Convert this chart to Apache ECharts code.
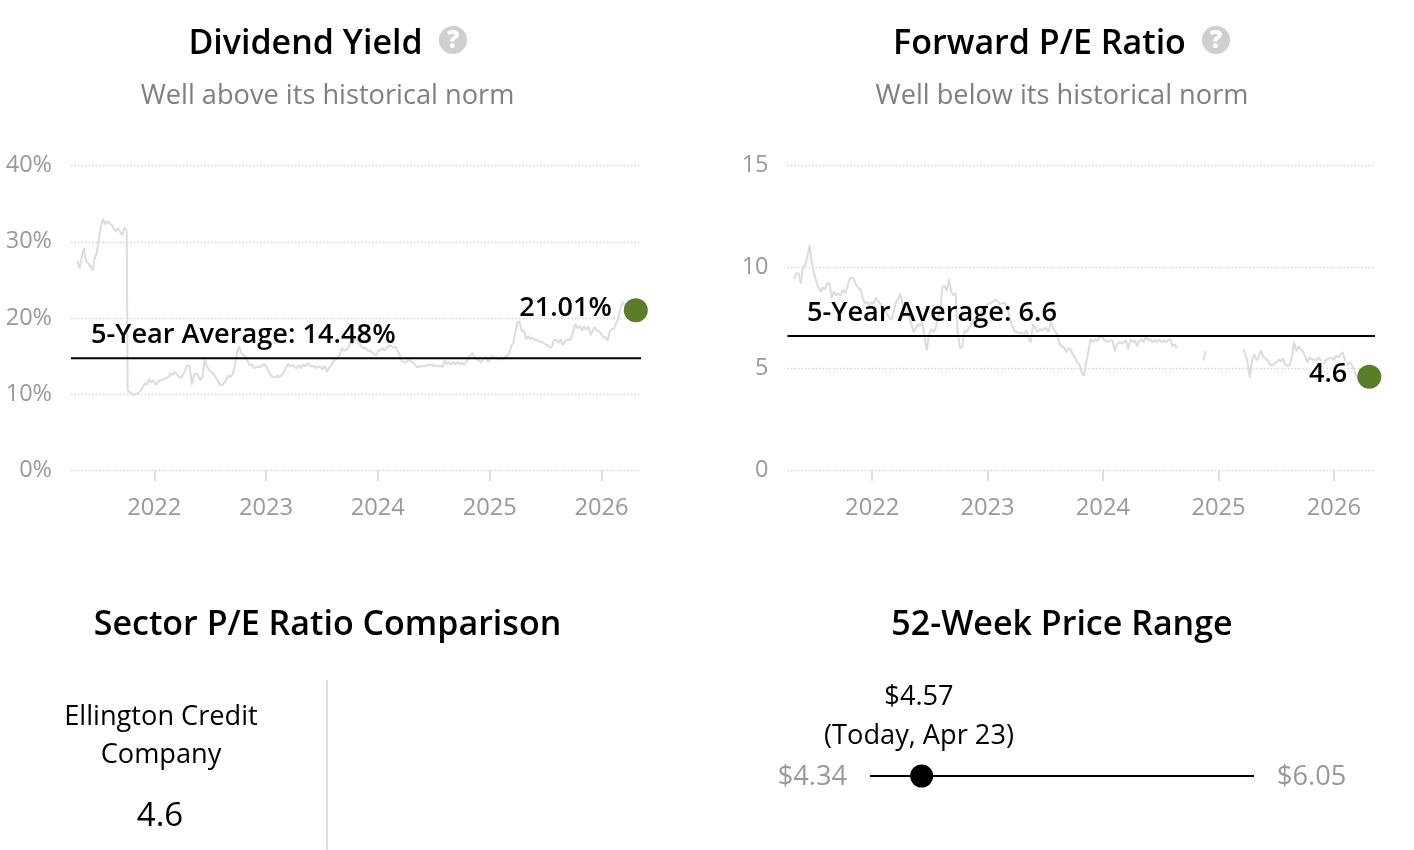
<!DOCTYPE html>
<html><head><meta charset="utf-8">
<script src="https://cdn.jsdelivr.net/npm/echarts@6/dist/echarts.min.js"></script>
<style>html,body{margin:0;padding:0;background:#fff}#c{width:1414px;height:850px}</style>
</head><body><div id="c"></div>
<script>
const yearTicks = ['2022-01-01','2023-01-01','2024-01-01','2025-01-01','2026-01-01'];
const yieldBefore = [27.5,26.5,28,29.2,27.5,27.2,26.8,26.2,27.8,28.5,30.5,32,33,32.3,32.7,32.4,32.2,31.7,31.4,31.8,31.2,30.9,31.9,31.5];
const yieldAfter = [10.5,10.2,10,9.9,10,10.1,10.4,10.8,11.4,11.2,11.9,11.5,11.8,11.2,11.5,11.8,11.8,12,12.1,12.2,12.7,12.5,12.9,12.6,12.2,12.1,12.6,13.2,13.8,13.6,
11.2,12.5,12.7,12.3,11.8,12.3,14.7,13.6,13.2,12.9,12.7,12.2,11.8,11.2,11.1,11.4,11.8,12.4,12.2,12.6,13.6,15.4,16.3,15.4,15.1,14.9,14.3,13.7,13.9,13.4,
13.5,13.6,13.5,13.8,13.9,13.4,12.8,12.4,12.2,12.2,12.4,12.2,12.5,12.9,13.6,13.9,13.6,13.8,13.5,13.4,13.8,13.4,13.9,13.6,14.1,13.7,13.6,13.7,13.4,13.6,
13.5,13.2,13.7,12.9,13.4,13.8,14.3,14.5,14.8,15.1,16,15.7,15.8,16.1,16.8,16.6,17.2,17.1,16.7,16.3,16,16.1,15.7,15.7,15.5,15.2,15.1,15.7,15.8,16,
15.7,16,16.4,16.3,16.1,16.2,15.7,15.1,14.3,14.1,14.2,14.5,14.3,14.2,13.9,13.5,13.6,13.6,13.7,13.6,13.9,13.7,13.9,13.6,13.8,13.6,13.7,13.5,14.4,13.9,
14.2,13.8,14.2,13.9,14.2,13.9,14.1,13.8,14.2,14.6,15.1,15.4,14.8,14.5,14.4,14.1,14.6,14.9,14.2,14.5,15,14.6,14.8,14.5,14.8,14.6,14.8,15,15.3,16.3,
16.7,18.2,19.5,19.4,18.2,18.3,17.2,17.6,17.2,17.4,17.1,17.1,16.9,16.9,16.7,16.5,16.4,16.1,16.2,17.1,17.1,16.7,17.2,16.4,16.9,17.1,17.1,17.3,18.3,19.2,
18.6,19,18.3,18.9,18.4,18.9,17.7,18.3,18.8,18.3,18.2,17.9,17.4,17.5,17,18.2,18.5,18.6,19.3,19.9,21.2,22.1,21.7,21.5,21.8,21.3,20.9,21.01];
const peValues = [9.4,9.7,9.7,9.2,10,10.1,10.5,11.1,10.2,9.7,9.3,9,8.8,9,8.9,9.2,9.2,8.5,8.8,8.6,8.7,8.6,8.9,8.7,9,9.4,9.5,9.4,9.1,9,
8.9,8.5,8.2,8.3,8.1,8.3,8.2,8.5,8.3,8.2,7.9,7.9,7.7,7.5,7.4,7.8,8.3,8.4,8.7,8.2,7.9,7.8,7.5,7.2,6.8,7,7.2,7.1,7.3,6.5,
5.9,6.7,6.95,6.8,7,7.5,7.85,9,9.1,8.8,9.4,8.8,8.6,8.75,6.7,6,6.05,6.9,6.8,7,7.2,7.45,7.4,7.6,7.5,7.85,7.9,8.1,8.2,8.25,
8.3,8.4,8.3,8.2,8.2,8.25,8.1,7.7,7.3,7,6.8,6.8,6.7,6.8,6.7,6.9,6.5,6.3,7.2,7,6.8,6.95,6.9,6.95,7,6.8,7.3,7,6.8,6.7,
6.2,6.1,6.05,5.8,6,5.95,5.7,5.55,5.3,5.2,4.8,4.65,5.3,5.85,6.45,6.3,6.45,6.35,6.55,6.6,6.45,6.35,6.3,6.4,6.35,5.85,6.2,6.3,6.25,6.3,
6.4,5.95,6.45,6.3,6.4,6.1,6.35,6.45,6.3,6.6,6.4,6.45,6.3,6.4,6.3,6.45,6.3,6.4,6.3,6.4,6.45,6.1,6.2,6,
null,null,null,null,null,null,null,null,null,null,null,5.4,5.87,
null,null,null,null,null,null,null,null,null,null,null,null,null,null,null,null,
5.95,5.7,5.3,4.55,5.4,5.7,5.4,5.6,5.9,5.6,5.5,5.4,5.2,5.15,5.25,5.3,5.45,5.35,5.5,5.2,5.15,5.15,5.6,6.3,5.85,6.1,5.95,5.85,5.6,5.3,
5.55,5.45,5.45,5.4,5.55,5.4,5.15,5.4,5.45,5.5,5.55,5.45,5.65,5.55,5.7,5.8,5.45,5.15,5.3,5.2,4.95,4.65,4.5,4.6,4.55,4.45,4.5,4.6];
const yieldToday = 21.01, peToday = 4.6;
const yieldAverage = 14.7, peAverage = 6.6;
const titles = ['Dividend Yield','Forward P/E Ratio','Sector P/E Ratio Comparison','52-Week Price Range'];
const subtitles = ['Well above its historical norm','Well below its historical norm'];
const averageLabels = ['5-Year Average: 14.48%','5-Year Average: 6.6'];
const sectorName = ['Ellington Credit','Company'];
const sectorValue = '4.6';
const priceLow = 4.34, priceHigh = 6.05, priceToday = 4.57;

const FONT = '"Open Sans"';
const day = 86400000;
const ts = d => Date.parse(d+'T00:00:00Z');
function weekly(start, vals){ const t0 = ts(start); return vals.map((v,i)=>[t0+i*7*day, v]); }
const yieldPts = weekly('2021-04-25',yieldBefore).concat(weekly('2021-10-06',yieldAfter));
const pePts = weekly('2021-04-29',peValues);
const todayDate = ts('2026-04-23');
const ticks = yearTicks.map(ts);

function xAxis(i,min,max){ return {
  type:'value', gridIndex:i, min:ts(min), max:ts(max), scale:true,
  axisLine:{show:false}, splitLine:{show:false},
  axisTick:{show:true,length:11,customValues:ticks,lineStyle:{color:'#d4d4d4',width:1.5}},
  axisLabel:{show:true,customValues:ticks,margin:26,color:'#999',fontFamily:FONT,fontSize:23.7,hideOverlap:false,
    formatter:v=>String(new Date(v).getUTCFullYear())}
};}
function yAxis(i,max,step,fmt){ return {
  type:'value', gridIndex:i, min:0, max:max, interval:step,
  axisLine:{show:false}, axisTick:{show:false},
  splitLine:{show:true,lineStyle:{color:'#d6d6d6',type:[1.5,2],width:1.4}},
  axisLabel:{margin:19,color:'#999',fontFamily:FONT,fontSize:23.5,padding:[0,0,5,0],formatter:fmt}
};}
function lineSeries(i,data){ return {type:'line',xAxisIndex:i,yAxisIndex:i,data,showSymbol:false,smooth:false,connectNulls:false,
  lineStyle:{color:'#dcdcdc',width:2},silent:true,z:2,animation:false};}
function avgSeries(i,ax,val){ return {type:'line',xAxisIndex:i,yAxisIndex:i,showSymbol:false,silent:true,z:3,animation:false,
  lineStyle:{color:'#000',width:2},data:[[ax.min,val],[ax.max,val]]};}
function dotSeries(i,val,text,dist,off){ return {type:'scatter',xAxisIndex:i,yAxisIndex:i,symbolSize:24,silent:true,z:5,animation:false,
  itemStyle:{color:'#5a7d2a',opacity:1},data:[[todayDate,val]],
  label:{show:true,position:'left',distance:dist,offset:[0,off],formatter:text,color:'#000',fontFamily:FONT,fontSize:27,fontWeight:600,
    textBorderColor:'#fff',textBorderWidth:4}};}
function txt(x,y,text,size,color,weight,align){ return {type:'text',x,y,z:10,silent:true,style:{text,fontFamily:FONT,fontSize:size,fill:color,fontWeight:weight||400,align:align||'center',verticalAlign:'middle'}};}
function helpIcon(cx,cy){ return [
  {type:'circle',shape:{cx,cy,r:14},style:{fill:'#cfcfcf'},z:10,silent:true},
  {type:'text',x:cx,y:cy+1,z:11,silent:true,style:{text:'?',fontFamily:FONT,fontSize:25,fontWeight:800,fill:'#fff',align:'center',verticalAlign:'middle'}}
];}

const x0 = xAxis(0,'2021-04-04','2026-05-10'), x1 = xAxis(1,'2021-04-08','2026-05-11');
const y0 = yAxis(0,40,10,'{value}%'), y1 = yAxis(1,15,5,'{value}');

const chart = echarts.init(document.getElementById('c'),null,{renderer:'canvas'});
chart.setOption({
  backgroundColor:'#fff', animation:false,
  grid:[
    {left:71,width:570,top:165.7,height:304.3},
    {left:787.5,width:587.5,top:165.7,height:304.3},
    {left:870,width:384,top:756,height:40}
  ],
  xAxis:[x0,x1,{type:'value',gridIndex:2,min:priceLow,max:priceHigh,axisLine:{show:false},axisTick:{show:false},axisLabel:{show:false},splitLine:{show:false}}],
  yAxis:[y0,y1,{type:'value',gridIndex:2,min:0,max:2,axisLine:{show:false},axisTick:{show:false},axisLabel:{show:false},splitLine:{show:false}}],
  series:[
    lineSeries(0,yieldPts), avgSeries(0,x0,yieldAverage), dotSeries(0,yieldToday,yieldToday.toFixed(2)+'%',12,-2),
    lineSeries(1,pePts), avgSeries(1,x1,peAverage), dotSeries(1,peToday,String(peToday),10,-2),
    {type:'line',xAxisIndex:2,yAxisIndex:2,showSymbol:false,silent:true,animation:false,lineStyle:{color:'#000',width:2},data:[[priceLow,1],[priceHigh,1]]},
    {type:'scatter',xAxisIndex:2,yAxisIndex:2,symbolSize:23,silent:true,animation:false,itemStyle:{color:'#000',opacity:1},data:[[priceToday,1]]}
  ],
  graphic:[
    txt(305.5,44,titles[0],34,'#000',600),
    txt(1039.5,44,titles[1],34,'#000',600),
    txt(327.5,625.5,titles[2],34,'#000',600),
    txt(1062,625.5,titles[3],34,'#000',600),
    txt(327.5,96,subtitles[0],27.2,'#7f7f7f'),
    txt(1062,96,subtitles[1],27.2,'#7f7f7f'),
    ...helpIcon(453,40), ...helpIcon(1216,40),
    txt(91,335,averageLabels[0],27.2,'#000',600,'left'),
    txt(807,313,averageLabels[1],27.2,'#000',600,'left'),
    {type:'line',shape:{x1:327,y1:680,x2:327,y2:850},style:{stroke:'#d4d4d4',lineWidth:1.5},silent:true,z:1},
    txt(161,717,sectorName[0],27.2,'#000'),
    txt(161,755,sectorName[1],27.2,'#000'),
    txt(160,817,sectorValue,33,'#000'),
    txt(919,697,'$'+priceToday.toFixed(2),27.2,'#000'),
    txt(919,736.5,'(Today, Apr 23)',27.2,'#000'),
    txt(847,777,'$'+priceLow.toFixed(2),27.2,'#999',400,'right'),
    txt(1277,777,'$'+priceHigh.toFixed(2),27.2,'#999',400,'left')
  ]
});
</script></body></html>
